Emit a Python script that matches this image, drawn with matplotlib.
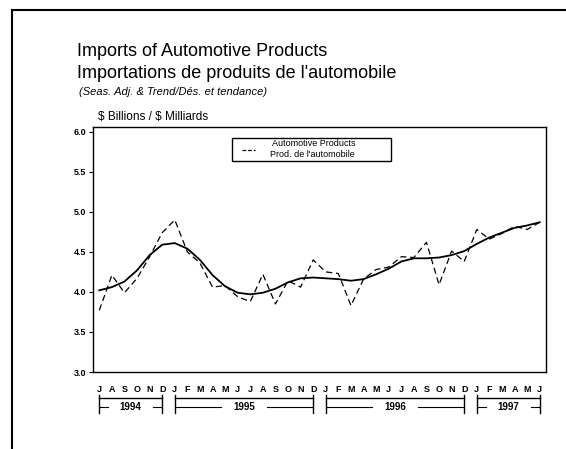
import numpy as np
import matplotlib.pyplot as plt
from matplotlib.patches import Rectangle
from matplotlib.transforms import blended_transform_factory

plt.rcParams['font.family'] = ['Liberation Sans', 'DejaVu Sans']

# monthly data, Jul 1994 - Jun 1997 ($ billions)
months = ['J', 'A', 'S', 'O', 'N', 'D',
          'J', 'F', 'M', 'A', 'M', 'J', 'J', 'A', 'S', 'O', 'N', 'D',
          'J', 'F', 'M', 'A', 'M', 'J', 'J', 'A', 'S', 'O', 'N', 'D',
          'J', 'F', 'M', 'A', 'M', 'J']
seas_adj = [3.77, 4.21, 3.99, 4.17, 4.44, 4.74,
            4.90, 4.50, 4.36, 4.06, 4.08, 3.94, 3.88, 4.22, 3.85, 4.14, 4.06, 4.40,
            4.25, 4.23, 3.83, 4.16, 4.28, 4.31, 4.44, 4.43, 4.62, 4.09, 4.51, 4.38,
            4.78, 4.66, 4.73, 4.82, 4.78, 4.87]
trend = [4.02, 4.06, 4.13, 4.27, 4.46, 4.59,
         4.61, 4.54, 4.40, 4.21, 4.07, 3.99, 3.97, 3.99, 4.04, 4.12, 4.17, 4.18,
         4.17, 4.16, 4.14, 4.16, 4.22, 4.29, 4.38, 4.42, 4.42, 4.43, 4.46, 4.51,
         4.60, 4.68, 4.74, 4.80, 4.83, 4.87]
years = ['1994', '1995', '1996', '1997']
year_span = [(0, 5), (6, 17), (18, 29), (30, 35)]
yticks = [3.0, 3.5, 4.0, 4.5, 5.0, 5.5, 6.0]
legend_lines = ['Automotive Products', "Prod. de l'automobile"]

W, H = 566, 449
fig = plt.figure(figsize=(W / 100, H / 100), dpi=100)
ax = fig.add_axes([93 / W, 1 - 372 / H, (546 - 93) / W, (372 - 127) / H])

def fx(px):
    return px / W

def fy(py):
    return 1 - py / H

x = np.arange(len(months))
ax.plot(x, seas_adj, color='black', lw=0.9, dashes=(5, 3))
ax.plot(x, trend, color='black', lw=1.3)

ax.set_xlim(-0.5, len(months) - 0.5)
ax.set_ylim(3.0, 6.06)
ax.set_yticks(yticks)
ax.set_yticklabels(['%.1f' % v for v in yticks], fontweight='bold', fontsize=6.5)
ax.set_xticks(x)
ax.set_xticklabels(months, fontweight='bold', fontsize=6.5)
ax.tick_params(axis='x', length=0, pad=9)
ax.tick_params(axis='y', length=3, width=0.8, pad=2)
for s in ax.spines.values():
    s.set_linewidth(1.0)

# legend box
fig.add_artist(Rectangle((fx(231.7), fy(161)), fx(390.7) - fx(231.7),
                         fy(137.7) - fy(161), transform=fig.transFigure,
                         fill=False, edgecolor='black', lw=1.0))
fig.add_artist(plt.Line2D([fx(241.7), fx(255)], [fy(149.5), fy(149.5)],
                          color='black', lw=0.9, dashes=(3, 1.5)))
fig.text(fx(272), fy(143.8), legend_lines[0], fontsize=6.5, va='center')
fig.text(fx(270), fy(154.8), legend_lines[1], fontsize=6.5, va='center')

# titles
fig.text(fx(77), fy(52), 'Imports of Automotive Products', fontsize=13,
         va='center')
fig.text(fx(77), fy(73), "Importations de produits de l'automobile",
         fontsize=13, va='center')
fig.text(fx(79), fy(92), '(Seas. Adj. & Trend/Dés. et tendance)',
         fontsize=8, style='italic', va='center')
fig.text(fx(98), fy(117), r'\$ Billions / \$ Milliards', fontsize=8.5,
         va='center')

# year brackets under month labels
tr = blended_transform_factory(ax.transData, fig.transFigure)
for yr, (a, b) in zip(years, year_span):
    for xx in (a, b):
        ax.plot([xx, xx], [fy(395), fy(413)], color='black', lw=1.0,
                transform=tr, clip_on=False)
    ax.plot([a, b], [fy(398), fy(398)], color='black', lw=1.0,
            transform=tr, clip_on=False)
    mid = (a + b) / 2
    ax.plot([a, mid - 1.8], [fy(407), fy(407)], color='black', lw=0.8,
            transform=tr, clip_on=False)
    ax.plot([mid + 1.8, b], [fy(407), fy(407)], color='black', lw=0.8,
            transform=tr, clip_on=False)
    ax.text(mid, fy(407), yr, transform=tr, ha='center', va='center',
            fontsize=7, fontweight='bold')

# page frame (top and left edges)
fig.add_artist(plt.Line2D([fx(12), 1], [fy(10), fy(10)], color='black', lw=1.5))
fig.add_artist(plt.Line2D([fx(12), fx(12)], [fy(10), 0], color='black', lw=1.5))

fig.savefig('out.png', dpi=100)
